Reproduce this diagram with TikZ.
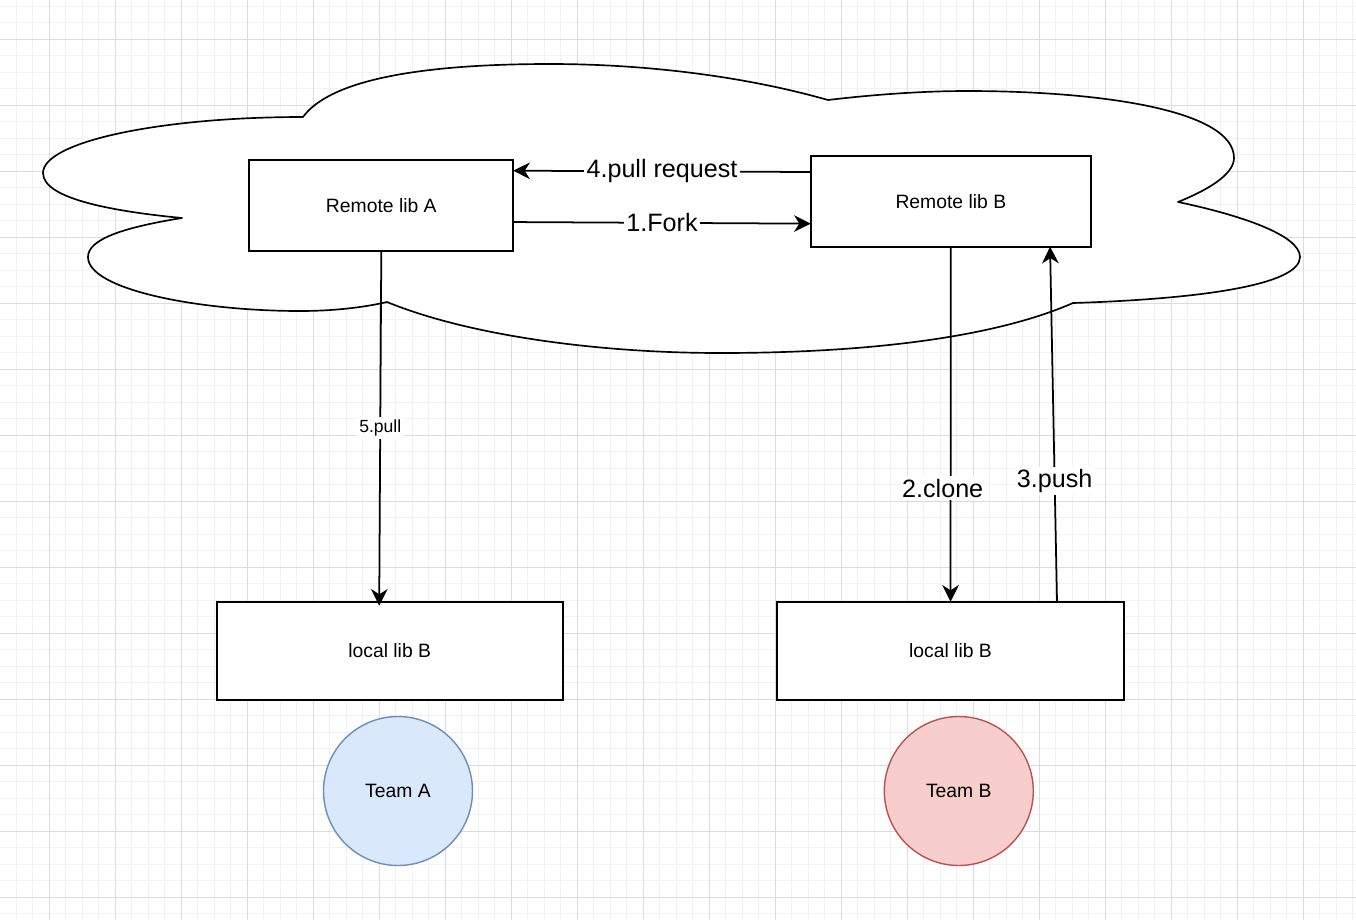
\documentclass[tikz,border=0pt]{standalone}
\usepackage{fontspec}
\setmainfont{Liberation Sans}
\usetikzlibrary{arrows.meta,calc}
\definecolor{gridminor}{HTML}{F1F1F1}
\definecolor{gridmajor}{HTML}{DCDCDC}
\definecolor{teamAfill}{HTML}{DAE8FC}
\definecolor{teamAdraw}{HTML}{6C8EBF}
\definecolor{teamBfill}{HTML}{F8CECC}
\definecolor{teamBdraw}{HTML}{B85450}
\begin{document}
\begin{tikzpicture}[x=0.02cm,y=-0.02cm,
  minorgrid/.style={draw=gridminor,line width=0.55pt},
  majorgrid/.style={draw=gridmajor,line width=0.55pt},
  cloudshape/.style={draw=black,fill=white,line width=0.95pt,line join=round},
  box/.style={draw=black,fill=white,line width=1pt,inner sep=0pt,outer sep=0pt,font=\fontsize{11}{13}\selectfont},
  team/.style={circle,line width=0.8pt,inner sep=0pt,outer sep=0pt,minimum size=2.98cm,font=\fontsize{11}{13}\selectfont},
  arr/.style={draw=black,line width=1pt,-{Stealth[length=9.5pt,width=9.5pt,inset=3pt]}},
  lbl/.style={fill=white,inner sep=1.5pt,font=\fontsize{14.3}{16}\selectfont},
  smalllbl/.style={fill=white,inner sep=1.5pt,font=\fontsize{10}{12}\selectfont}
]
\useasboundingbox (0,0) rectangle (1356,920);
\fill[white] (0,0) rectangle (1356,920);
% grid
\foreach \i in {0,...,82} \draw[minorgrid] ({-0.2+16.5*\i},0) -- ({-0.2+16.5*\i},920);
\foreach \i in {0,...,55} \draw[minorgrid] (0,{6.3+16.5*\i}) -- (1356,{6.3+16.5*\i});
\foreach \i in {0,...,19} \draw[majorgrid] ({49.3+66*\i},0) -- ({49.3+66*\i},920);
\foreach \i in {0,...,13} \draw[majorgrid] (0,{39.3+66*\i}) -- (1356,{39.3+66*\i});
% cloud
\path[cloudshape] (303,117)
 .. controls (159,117) and (43,142) .. (43,173)
 .. controls (43,200) and (120,212) .. (182,218)
 .. controls (120,228) and (88,240) .. (88,257)
 .. controls (88,290) and (200,311) .. (300,311)
 .. controls (340,311) and (370,306) .. (387,302)
 .. controls (470,336) and (600,353) .. (720,353)
 .. controls (880,353) and (1000,335) .. (1073,303)
 .. controls (1200,299) and (1300,285) .. (1300,257)
 .. controls (1300,235) and (1240,215) .. (1178,202)
 .. controls (1215,187) and (1234,172) .. (1234,158)
 .. controls (1234,110) and (1100,91) .. (967,91)
 .. controls (920,91) and (870,95) .. (828,100)
 .. controls (740,75) and (640,64) .. (550,64)
 .. controls (420,64) and (330,80) .. (303,117) -- cycle;
% boxes
\node[box,minimum width=5.28cm,minimum height=1.814cm] (rA) at (381.3,205.35) {Remote lib A};
\node[box,minimum width=5.606cm,minimum height=1.814cm] (rB) at (950.85,201.35) {Remote lib B};
\node[box,minimum width=6.92cm,minimum height=1.966cm] (lA) at (389.7,650.85) {local lib B};
\node[box,minimum width=6.94cm,minimum height=1.966cm] (lB) at (950.5,650.85) {local lib B};
\node[team,fill=teamAfill,draw=teamAdraw] (tA) at (398,791) {Team A};
\node[team,fill=teamBfill,draw=teamBdraw] (tB) at (958.8,791) {Team B};
% connectors
\draw[arr] ($(rB.west)+(0,-29.35)$) -- node[lbl]{4.pull request} ($(rA.east)+(0,-34.65)$);
\draw[arr] ($(rA.east)+(0,16.7)$) -- node[lbl]{1.Fork} ($(rB.west)+(0,22.3)$);
\draw[arr] (rA.south) -- node[smalllbl]{5.pull} ($(lA.north)+(-10.5,4)$);
\draw[arr] (rB.south) -- node[lbl,pos=0.68,xshift=-4.5pt]{2.clone} (lB.north);
\draw[arr] ($(lB.north)+(106.5,0)$) -- node[lbl,pos=0.34]{3.push} ($(rB.south)+(99.2,0)$);
\end{tikzpicture}
\end{document}
